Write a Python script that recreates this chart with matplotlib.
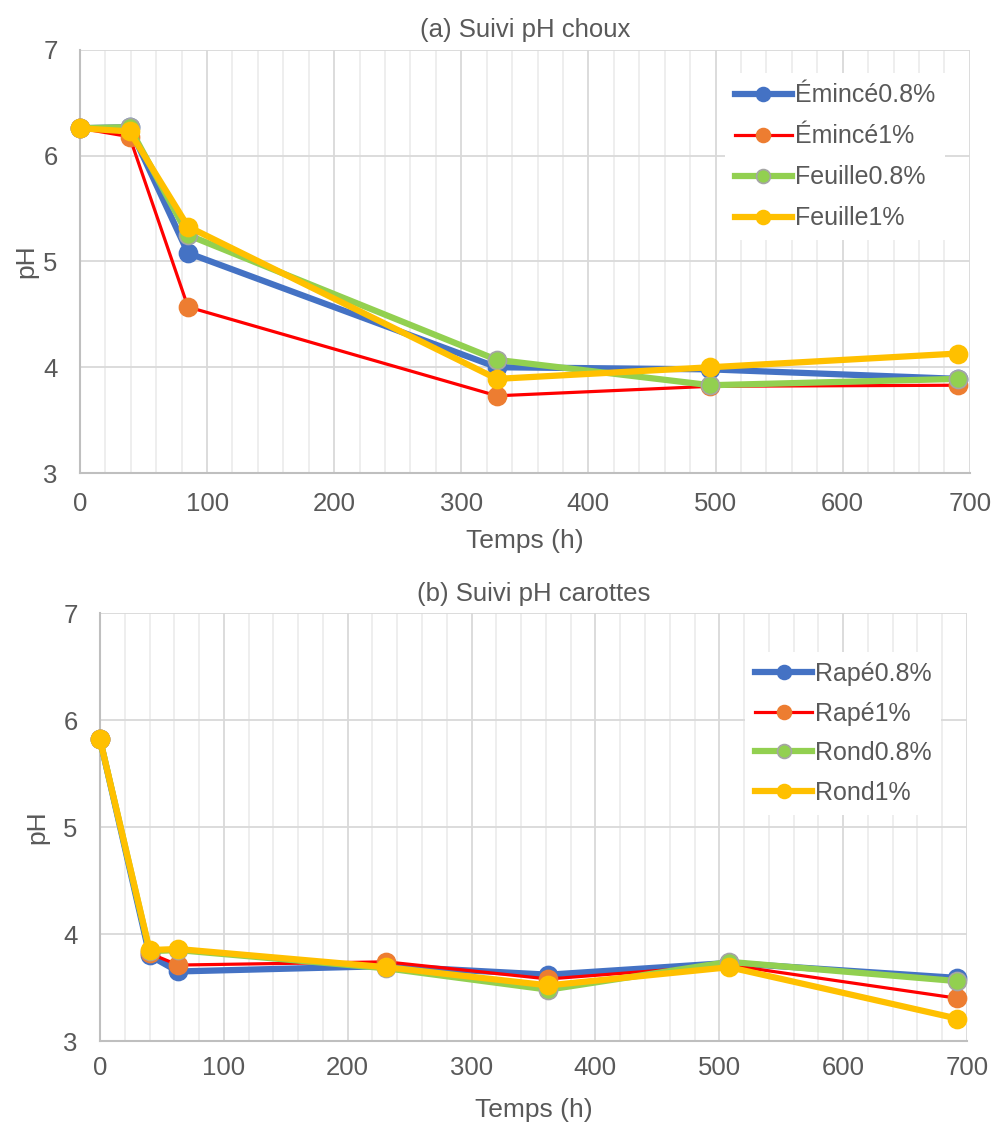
import matplotlib
matplotlib.use("Agg")
import matplotlib.pyplot as plt
from matplotlib.lines import Line2D
from matplotlib.ticker import MultipleLocator

plt.rcParams['font.family'] = ['Liberation Sans', 'DejaVu Sans']

# (a) choux
choux_t = [0, 39, 85, 328, 496, 691]
emince08 = [6.26, 6.27, 5.08, 4.00, 3.98, 3.89]
emince1 = [6.26, 6.18, 4.57, 3.73, 3.82, 3.83]
feuille08 = [6.26, 6.27, 5.25, 4.07, 3.83, 3.89]
feuille1 = [6.26, 6.23, 5.33, 3.89, 4.00, 4.13]
choux_labels = ["Émincé0.8%", "Émincé1%", "Feuille0.8%", "Feuille1%"]

# (b) carottes
carottes_t = [0, 40, 63, 231, 362, 508, 692]
rape08 = [5.82, 3.80, 3.65, 3.70, 3.62, 3.73, 3.59]
rape1 = [5.82, 3.82, 3.71, 3.74, 3.58, 3.71, 3.40]
rond08 = [5.82, 3.84, 3.85, 3.68, 3.48, 3.74, 3.56]
rond1 = [5.82, 3.85, 3.86, 3.69, 3.52, 3.69, 3.21]
carottes_labels = ["Rapé0.8%", "Rapé1%", "Rond0.8%", "Rond1%"]

TXT = "#595959"
# line colour, marker colour, marker edge, line width
styles = [
    ("#4472C4", "#4472C4", "#4472C4", 4.5),
    ("#FF0000", "#ED7D31", "#ED7D31", 2.3),
    ("#92D050", "#92D050", "#A5A5A5", 4.5),
    ("#FFC000", "#FFC000", "#FFC000", 4.5),
]

fig = plt.figure(figsize=(9.92, 11.23), dpi=100)
ax1 = fig.add_axes([0.0806, 0.5788, 0.897, 0.3767])
ax2 = fig.add_axes([0.1008, 0.0730, 0.874, 0.3811])


def draw(ax, t, series, labels, title, xpad, xlpad, ylx, bbox, lsp):
    for y, (lc, mc, me, lw) in zip(series, styles):
        ax.plot(t, y, color=lc, lw=lw, marker="o", ms=13, mfc=mc, mec=me,
                mew=1.2, clip_on=False, zorder=3)
    ax.set_xlim(0, 700)
    ax.set_ylim(3, 7)
    ax.xaxis.set_major_locator(MultipleLocator(100))
    ax.xaxis.set_minor_locator(MultipleLocator(20))
    ax.yaxis.set_major_locator(MultipleLocator(1))
    ax.grid(which="major", color="#D9D9D9", lw=1.3)
    ax.grid(which="minor", axis="x", color="#EDEDED", lw=1.3)
    ax.set_axisbelow(True)
    for s in ["top", "right"]:
        ax.spines[s].set_visible(False)
    for s in ["left", "bottom"]:
        ax.spines[s].set_color("#BFBFBF")
        ax.spines[s].set_linewidth(1.5)
    ax.tick_params(which="both", length=0, labelsize=18.5, colors=TXT)
    ax.tick_params(axis="y", pad=16)
    ax.tick_params(axis="x", pad=xpad)
    ax.set_xlabel("Temps (h)", fontsize=19, color=TXT, labelpad=xlpad)
    ax.set_ylabel("pH", fontsize=19, color=TXT)
    ax.yaxis.set_label_coords(ylx, 0.5)
    ax.set_title(title, fontsize=18.5, color=TXT, pad=9)
    handles = [Line2D([], [], color=lc, lw=lw, marker="o", ms=10, mfc=mc,
                      mec=me, mew=1.2) for (lc, mc, me, lw) in styles]
    leg = ax.legend(handles, labels, loc="upper right", bbox_to_anchor=bbox,
                    fontsize=18, frameon=True, facecolor="white",
                    edgecolor="none", framealpha=1, fancybox=False,
                    handlelength=2.3, handletextpad=0.1, labelspacing=lsp,
                    borderpad=0.4)
    for tx in leg.get_texts():
        tx.set_color(TXT)


draw(ax1, choux_t, [emince08, emince1, feuille08, feuille1], choux_labels,
     "(a) Suivi pH choux", 14, 9, -0.047, (0.986, 0.974), 0.68)
draw(ax2, carottes_t, [rape08, rape1, rond08, rond1], carottes_labels,
     "(b) Suivi pH carottes", 11, 13, -0.058, (0.985, 0.938), 0.62)

fig.savefig("out.png", dpi=100)
